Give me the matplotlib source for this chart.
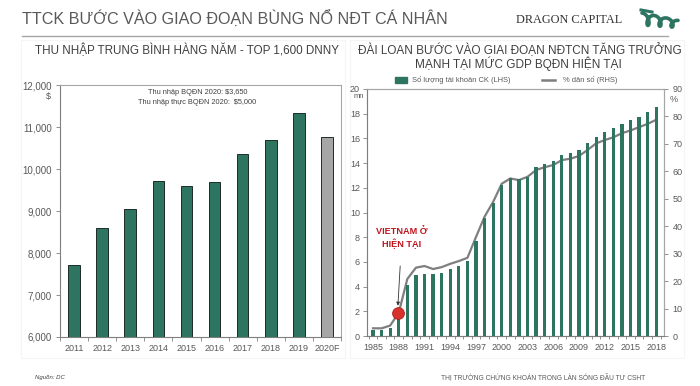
import numpy as np
import matplotlib
matplotlib.use("Agg")
import matplotlib.pyplot as plt
from matplotlib.ticker import FuncFormatter, MultipleLocator, FixedLocator
from matplotlib.lines import Line2D
from matplotlib.patches import Rectangle

plt.rcParams['font.family'] = ['Liberation Sans', 'DejaVu Sans']

# ---------------- data ----------------
income_years = ['2011', '2012', '2013', '2014', '2015', '2016', '2017', '2018', '2019', '2020F']
income_values = [7710, 8600, 9050, 9710, 9600, 9690, 10360, 10690, 11330, 10760]

tw_years = list(range(1985, 2019))
tw_accounts = [0.45, 0.45, 0.62, 1.45, 4.15, 4.95, 5.05, 5.0, 5.1, 5.4, 5.65, 6.05, 7.7, 9.55,
               10.8, 12.2, 12.8, 12.68, 12.9, 13.66, 13.93, 14.2, 14.63, 14.8, 15.07, 15.6,
               16.1, 16.5, 16.83, 17.18, 17.45, 17.72, 18.15, 18.58]
tw_pct = [2.8, 2.8, 3.8, 8.5, 20.8, 24.9, 25.5, 24.4, 25.1, 26.3, 27.3, 28.5, 36.1, 43.5,
          48.9, 55.5, 57.4, 56.8, 58.0, 60.5, 61.5, 62.3, 64.1, 64.6, 65.6, 67.8,
          70.2, 71.4, 72.4, 73.9, 74.9, 76.1, 77.3, 78.8]
vn_point = (1987.9, 1.9)

GREEN = '#2e7561'
GREY_TXT = '#595959'
DARK_TXT = '#404040'

W, H = 700, 386
fig = plt.figure(figsize=(7.0, 3.86), dpi=100)
fig.patch.set_facecolor('white')
renderer = fig.canvas.get_renderer()


def fx(px):
    return px / W


def fy(py):
    return 1 - py / H


def fit_text(x, y, s, width_px, ha='left', va='center', size0=10, **kw):
    t = fig.text(fx(x), fy(y), s, ha=ha, va=va, fontsize=size0, **kw)
    w = t.get_window_extent(renderer=renderer).width
    t.set_fontsize(size0 * width_px / w)
    return t


# ---------------- header ----------------
fit_text(22, 19, 'TTCK BƯỚC VÀO GIAO ĐOẠN BÙNG NỔ NĐT CÁ NHÂN', 424, color=GREY_TXT,
         family=['Liberation Sans Narrow', 'Liberation Sans', 'DejaVu Sans'])
fit_text(516, 20, 'DRAGON CAPITAL', 106, color='#333333',
         family=['Liberation Serif', 'DejaVu Serif'])
fig.add_artist(Line2D([fx(22), fx(668)], [fy(36), fy(36)], color='#a6a6a6', lw=1.0))

# dragon logo (decorative squiggle)
tt = np.linspace(0, 1, 300)
lx = 642 + 36 * tt + 3.5 * np.sin(tt * 6 * np.pi)
ly = 19 - 6 * np.cos(tt * 6 * np.pi) * (1 - 0.4 * tt) + 5 * tt
fig.add_artist(Line2D(fx(lx), fy(ly), color=GREEN, lw=2.6, solid_capstyle='round'))
fig.add_artist(Line2D(fx(np.array([641, 652])), fy(np.array([10, 12])), color=GREEN, lw=2.2))

# subtitles
fit_text(35, 50, 'THU NHẬP TRUNG BÌNH HÀNG NĂM - TOP 1,600 DNNY', 302, color=DARK_TXT)
t1 = fit_text(358, 50, 'ĐÀI LOAN BƯỚC VÀO GIAI ĐOẠN NĐTCN TĂNG TRƯỞNG', 325, color=DARK_TXT)
fig.text(fx(518), fy(64), 'MẠNH TẠI MỨC GDP BQĐN HIỆN TẠI', ha='center', va='center',
         fontsize=t1.get_fontsize(), color=DARK_TXT)

# faint panel frames
for (x0, x1) in [(21, 345), (350, 684)]:
    fig.add_artist(Rectangle((fx(x0), fy(358)), fx(x1) - fx(x0), fy(40) - fy(358),
                             fill=False, ec='#f5f5f5', lw=0.8))

# ---------------- left chart ----------------
ax1 = fig.add_axes([fx(60), fy(337), fx(341) - fx(60), fy(85) - fy(337)])
xpos = np.arange(len(income_years))
colors = [GREEN] * (len(income_years) - 1) + ['#a6a6a6']
ax1.bar(xpos, income_values, width=0.41, color=colors, edgecolor='#1e2b26', linewidth=0.7, zorder=3)
ax1.set_xlim(-0.5, len(income_years) - 0.5)
ax1.set_ylim(6000, 12000)
ax1.yaxis.set_major_locator(MultipleLocator(1000))
ax1.yaxis.set_major_formatter(FuncFormatter(lambda v, p: f'{int(v):,}'))
ax1.set_xticks(xpos)
ax1.set_xticklabels(income_years)
ax1.xaxis.set_minor_locator(FixedLocator(np.arange(-0.5, len(income_years), 1.0)))
ax1.tick_params(axis='x', which='major', length=0, labelsize=6.5, colors=GREY_TXT, pad=5)
ax1.tick_params(axis='x', which='minor', length=3, color='#7f7f7f', width=0.6)
ax1.tick_params(axis='y', length=3, labelsize=7, colors=GREY_TXT, width=0.6, pad=3)
ax1.tick_params(axis='y', color='#7f7f7f')
for s in ['top', 'right']:
    ax1.spines[s].set_color('#a6a6a6')
for s in ['left', 'bottom']:
    ax1.spines[s].set_color('#7f7f7f')
for s in ax1.spines.values():
    s.set_linewidth(0.8)
fig.text(fx(48), fy(96), '$', ha='center', va='center', fontsize=6.5, color=GREY_TXT)
a1 = fit_text(198, 93, 'Thu nhập BQĐN 2020: \\$3,650', 100, ha='center', color=DARK_TXT)
fig.text(fx(197), fy(103), 'Thu nhập thực BQĐN 2020:  \\$5,000', ha='center', va='center',
         fontsize=a1.get_fontsize(), color=DARK_TXT)

# ---------------- right chart ----------------
ax2 = fig.add_axes([fx(367), fy(336), fx(664) - fx(367), fy(89) - fy(336)])
ax2.bar(tw_years, tw_accounts, width=0.38, color=GREEN, linewidth=0, zorder=2)
ax2.set_xlim(1984.3, 2018.9)
ax2.set_ylim(0, 20)
ax2.yaxis.set_major_locator(MultipleLocator(2))
ax2.set_xticks(tw_years[::3])
ax2.xaxis.set_minor_locator(FixedLocator(np.arange(1984.5, 2019, 1.0)))
ax2.tick_params(axis='x', which='major', length=0, labelsize=6.5, colors=GREY_TXT, pad=5)
ax2.tick_params(axis='x', which='minor', length=2.5, color='#7f7f7f', width=0.6)
ax2.tick_params(axis='y', length=3, labelsize=6.5, colors=GREY_TXT, color='#7f7f7f', width=0.6, pad=2)

ax3 = ax2.twinx()
ax3.plot(tw_years, tw_pct, color='#7f7f7f', lw=1.6, zorder=4)
ax3.set_ylim(0, 90)
ax3.yaxis.set_major_locator(MultipleLocator(10))
ax3.tick_params(axis='y', length=3, labelsize=6.5, colors=GREY_TXT, color='#7f7f7f', width=0.6, pad=3)
for a in (ax2, ax3):
    for s in a.spines.values():
        s.set_color('#a6a6a6')
        s.set_linewidth(0.8)
ax2.spines['left'].set_color('#7f7f7f')
ax2.spines['bottom'].set_color('#7f7f7f')

fig.text(fx(359), fy(97), 'mn', ha='center', va='center', fontsize=5.5, color=GREY_TXT)
fig.text(fx(674), fy(100), '%', ha='center', va='center', fontsize=6.5, color=GREY_TXT)

# Vietnam marker and annotation (on bar axes, left-scale)
ax2.plot([vn_point[0]], [vn_point[1]], 'o', ms=8.5, color='#d8322c', mec='#b01f1a', mew=0.6, zorder=6)
ax2.annotate('VIETNAM Ở\nHIỆN TẠI', xy=(vn_point[0], vn_point[1] + 0.55), xytext=(1988.35, 7.9),
             ha='center', va='center', fontsize=6.6, fontweight='bold', color='#c0141c',
             linespacing=1.3,
             arrowprops=dict(arrowstyle='-|>', color='#333333', lw=0.6, mutation_scale=5,
                             shrinkA=10, shrinkB=0), zorder=7)
ax2.set_zorder(ax3.get_zorder() + 1)
ax2.patch.set_visible(False)

# legend
fig.add_artist(Rectangle((fx(395), fy(83)), fx(12), fy(77) - fy(83), color=GREEN))
fit_text(412, 80, 'Số lượng tài khoản CK (LHS)', 99, color=GREY_TXT)
fig.add_artist(Line2D([fx(542), fx(555)], [fy(80), fy(80)], color='#7f7f7f', lw=1.8))
fit_text(563, 80, '% dân số (RHS)', 54, color=GREY_TXT)

# footer
fit_text(35, 377, 'Nguồn: DC', 30, color=DARK_TXT, style='italic')
fit_text(441, 377, 'THỊ TRƯỜNG CHỨNG KHOÁN TRONG LÀN SÓNG ĐẦU TƯ CSHT', 204, color=GREY_TXT)

fig.savefig('out.png', dpi=100, facecolor='white')
